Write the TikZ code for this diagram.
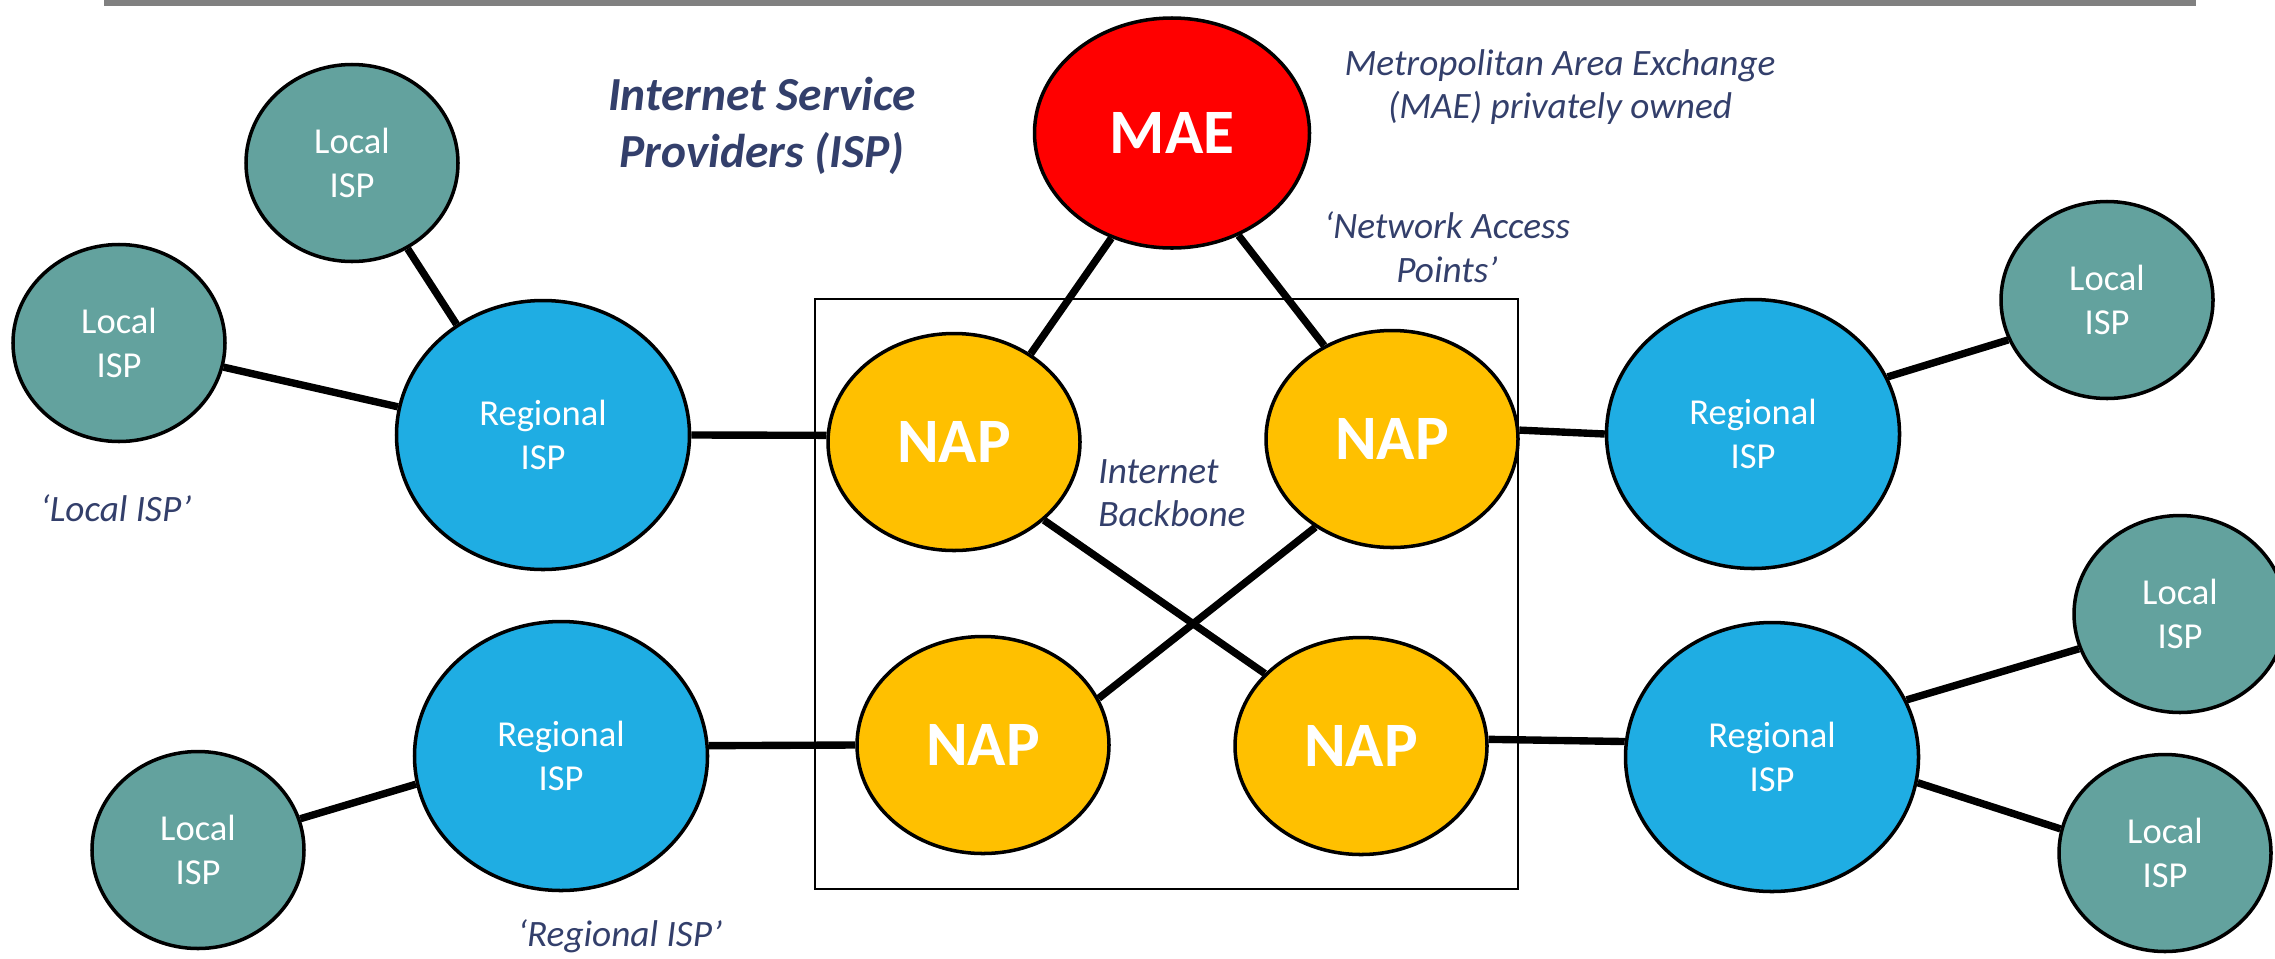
\documentclass[tikz,border=0pt]{standalone}
\usepackage{fontspec}
\setmainfont{Carlito}
\usetikzlibrary{shapes.geometric}
\definecolor{ispTeal}{RGB}{99,162,158}
\definecolor{ispBlue}{RGB}{31,173,227}
\definecolor{napGold}{RGB}{255,192,0}
\definecolor{maeRed}{RGB}{255,0,0}
\definecolor{noteNavy}{RGB}{51,63,107}
\begin{document}
\begin{tikzpicture}[
  font=\fontsize{10.4}{12.4}\selectfont,
  isp/.style={ellipse, draw=black, line width=1pt, text=white, align=center, inner sep=0pt},
  loc/.style={isp, fill=ispTeal, minimum width=2.12cm, minimum height=1.97cm},
  reg/.style={isp, fill=ispBlue, minimum width=2.93cm, minimum height=2.69cm},
  nap/.style={isp, fill=napGold, minimum width=2.52cm, minimum height=2.17cm, font=\fontsize{18}{20}\selectfont\bfseries},
  note/.style={text=noteNavy, font=\fontsize{10.6}{12.4}\selectfont\itshape, align=center},
  link/.style={line width=2.1pt},
]
\useasboundingbox (0,0) rectangle (22.75,-9.58);
% title rule
\draw[gray, line width=0.06cm] (1.04,-0.03) -- (21.96,-0.03);
% backbone frame
\draw[line width=0.6pt] (8.15,-2.99) rectangle (15.18,-8.89);
% exchange and access points
\node[isp, fill=maeRed, minimum width=2.75cm, minimum height=2.30cm, font=\fontsize{18}{20}\selectfont\bfseries] (mae) at (11.72,-1.33) {MAE};
\node[nap] (napTL) at (9.54,-4.42) {NAP};
\node[nap] (napTR) at (13.92,-4.39) {NAP};
\node[nap] (napBL) at (9.83,-7.45) {NAP};
\node[nap] (napBR) at (13.61,-7.46) {NAP};
% regional ISPs
\node[reg] (regTL) at (5.43,-4.35) {Regional\\ISP};
\node[reg] (regBL) at (5.61,-7.56) {Regional\\ISP};
\node[reg] (regTR) at (17.53,-4.34) {Regional\\ISP};
\node[reg] (regBR) at (17.72,-7.57) {Regional\\ISP};
% local ISPs
\node[loc] (lclA) at (3.52,-1.63) {Local\\ISP};
\node[loc] (lclB) at (1.19,-3.43) {Local\\ISP};
\node[loc] (lclC) at (1.98,-8.50) {Local\\ISP};
\node[loc] (lclD) at (21.07,-3.00) {Local\\ISP};
\node[loc] (lclE) at (21.80,-6.14) {Local\\ISP};
\node[loc] (lclF) at (21.65,-8.53) {Local\\ISP};
% links
\draw[link] (lclA.-57) -- (regTL.128);
\draw[link] (lclB.-13) -- (regTL.169);
\draw[link] (regTL.east) -- (napTL.177);
\draw[link] (mae.240) -- (napTL.49);
\draw[link] (mae.-57) -- (napTR.126);
\draw[link] (napTL.-41) -- (napBR.143);
\draw[link] (napTR.229) -- (napBL.22);
\draw[link] (regBL.4) -- (napBL.west);
\draw[link] (lclC.17) -- (regBL.191);
\draw[link] (napTR.4) -- (regTR.west);
\draw[link] (regTR.23) -- (lclD.202);
\draw[link] (napBR.3) -- (regBR.174);
\draw[link] (regBR.23) -- (lclE.199);
\draw[link] (regBR.-10) -- (lclF.167);
% notes
\node[note, font=\fontsize{13.5}{16}\selectfont\bfseries\itshape] (ttl) at (7.62,-1.26) {Internet Service\\Providers (ISP)};
\node[note] (maeNote) at (15.60,-0.87) {Metropolitan Area Exchange\\(MAE) privately owned};
\node[note] (napNote) at (14.47,-2.47) {‘Network Access\\Points’};
\node[note, align=left, anchor=west] (bbNote) at (10.86,-4.93) {Internet\\Backbone};
\node[note] (lclNote) at (1.16,-5.08) {‘Local ISP’};
\node[note] (regNote) at (6.20,-9.36) {‘Regional ISP’};
\end{tikzpicture}
\end{document}
